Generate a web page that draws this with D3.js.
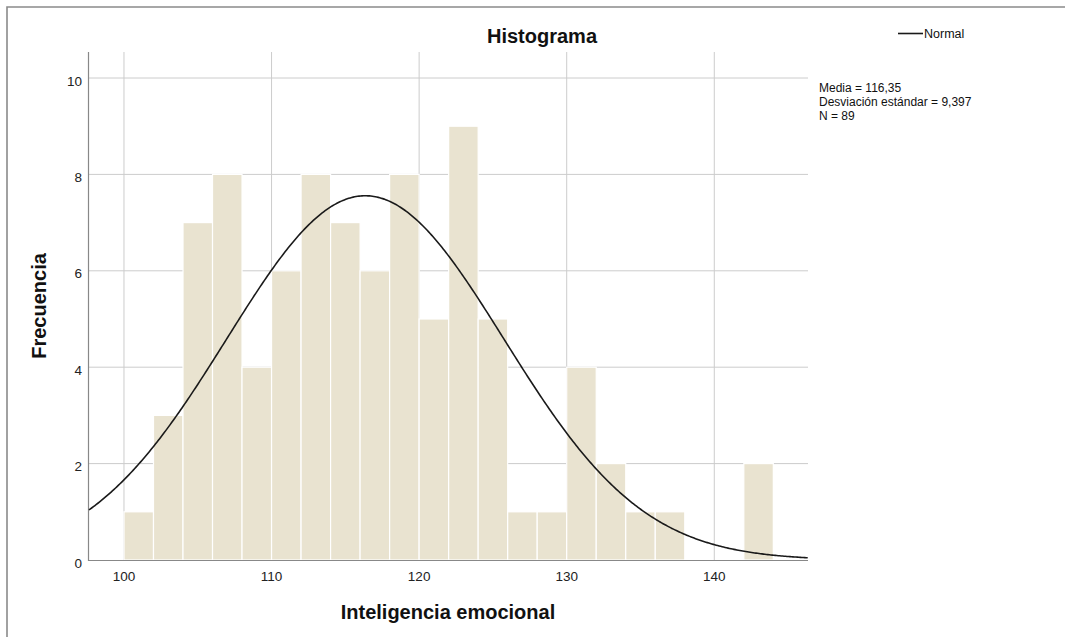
<!DOCTYPE html>
<html>
<head>
<meta charset="utf-8">
<script src="https://cdn.jsdelivr.net/npm/d3@7"></script>
<style>
body{margin:0;background:#fff;}
text{font-family:"Liberation Sans",Arial,sans-serif;}
</style>
</head>
<body>
<svg width="1065" height="637"></svg>
<script>
// bins of width 2 starting at 100
var binStarts = [100,102,104,106,108,110,112,114,116,118,120,122,124,126,128,130,132,134,136,138,140,142];
var counts    = [1,3,7,8,4,6,8,7,6,8,5,9,5,1,1,4,2,1,1,0,0,2];
var xTicks = [100,110,120,130,140];
var yTicks = [0,2,4,6,8,10];
var media = 116.35, desv = 9.397, n = 89, binWidth = 2;
var statLines = ["Media = 116,35","Desviación estándar = 9,397","N = 89"];

var svg = d3.select("svg");

// outer frame
svg.append("path")
   .attr("d","M7,640 L7,7 L1070,7")
   .attr("fill","none").attr("stroke","#8a8a8a").attr("stroke-width",1.6);

var pLeft = 89, pRight = 808, pTop = 52, pBottom = 560;
var x = d3.scaleLinear().domain([97.63,146.35]).range([pLeft,pRight]);
var y = d3.scaleLinear().domain([0,10]).range([pBottom,78]);

// gridlines
svg.append("g").selectAll("line").data(xTicks).enter().append("line")
   .attr("x1",d=>x(d)).attr("x2",d=>x(d)).attr("y1",pTop).attr("y2",pBottom)
   .attr("stroke","#cccccc").attr("stroke-width",1);
svg.append("g").selectAll("line").data(yTicks.slice(1)).enter().append("line")
   .attr("x1",pLeft).attr("x2",pRight).attr("y1",d=>y(d)).attr("y2",d=>y(d))
   .attr("stroke","#cccccc").attr("stroke-width",1);

// bars
svg.append("g").selectAll("rect").data(binStarts).enter().append("rect")
   .attr("x",d=>x(d))
   .attr("width",d=>x(d+binWidth)-x(d))
   .attr("y",(d,i)=>y(counts[i]))
   .attr("height",(d,i)=>pBottom-y(counts[i]))
   .attr("fill","#e9e3d0")
   .attr("stroke","#ffffff").attr("stroke-width",1.2);

// axes lines
svg.append("line").attr("x1",88.5).attr("x2",88.5).attr("y1",pTop).attr("y2",pBottom+1)
   .attr("stroke","#888").attr("stroke-width",1.2);
svg.append("line").attr("x1",88).attr("x2",pRight).attr("y1",pBottom+0.5).attr("y2",pBottom+0.5)
   .attr("stroke","#888").attr("stroke-width",1.2);

// tick labels
svg.append("g").selectAll("text").data(yTicks).enter().append("text")
   .attr("x",82).attr("y",d=>y(d)+7.5).attr("text-anchor","end")
   .attr("font-size",13.5).attr("fill","#222").text(d=>d);
svg.append("g").selectAll("text").data(xTicks).enter().append("text")
   .attr("x",d=>x(d)).attr("y",581).attr("text-anchor","middle")
   .attr("font-size",13.5).attr("fill","#222").text(d=>d);

// normal curve
var xs = d3.range(97.63,146.36,0.1);
var pdf = v => n*binWidth/(desv*Math.sqrt(2*Math.PI))*Math.exp(-0.5*Math.pow((v-media)/desv,2));
svg.append("path").datum(xs)
   .attr("d",d3.line().x(d=>x(d)).y(d=>y(pdf(d))))
   .attr("fill","none").attr("stroke","#1a1a1a").attr("stroke-width",1.6);

// titles
svg.append("text").attr("x",542).attr("y",43).attr("text-anchor","middle")
   .attr("font-size",20).attr("font-weight","bold").attr("fill","#111").text("Histograma");
svg.append("text").attr("x",448).attr("y",619).attr("text-anchor","middle")
   .attr("font-size",20).attr("font-weight","bold").attr("fill","#111").text("Inteligencia emocional");
svg.append("text").attr("transform","translate(46,306) rotate(-90)").attr("text-anchor","middle")
   .attr("font-size",20).attr("font-weight","bold").attr("fill","#111").text("Frecuencia");

// legend
svg.append("line").attr("x1",898).attr("x2",923).attr("y1",33.5).attr("y2",33.5)
   .attr("stroke","#1a1a1a").attr("stroke-width",1.6);
svg.append("text").attr("x",924).attr("y",38).attr("font-size",12.5).attr("fill","#111").text("Normal");

svg.append("g").selectAll("text").data(statLines).enter().append("text")
   .attr("x",819).attr("y",(d,i)=>92+i*14)
   .attr("font-size",12).attr("fill","#111").text(d=>d);
</script>
</body>
</html>
